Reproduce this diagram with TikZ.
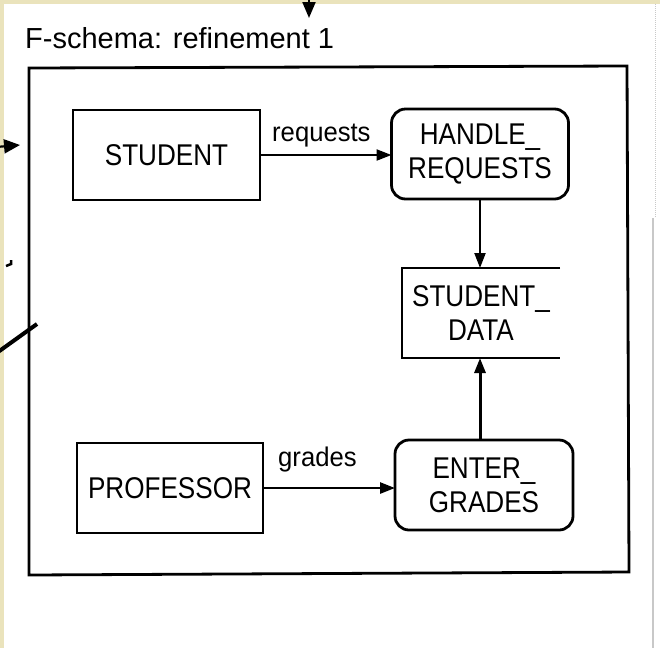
\documentclass[tikz,border=0pt]{standalone}
\usepackage{fontspec}
\setmainfont{Liberation Sans}
\newfontfamily\boxfont[FakeStretch=0.87]{Liberation Sans}
\newfontfamily\lblfont[FakeStretch=0.95]{Liberation Sans}
\usetikzlibrary{arrows.meta}
\definecolor{pagebeige}{RGB}{234,227,188}
\definecolor{edgegray}{RGB}{200,200,200}
\begin{document}
\begin{tikzpicture}[x=1pt,y=-1pt,
  ink/.style={line width=2.8pt,black},
  procbox/.style={draw,ink,minimum width=#1,minimum height=90pt,inner sep=0pt,outer sep=0pt,
    align=center,font=\boxfont\fontsize{30}{34}\selectfont},
  roundbox/.style={procbox=#1,rounded corners=14pt},
  storebox/.style={minimum width=#1,minimum height=90pt,inner sep=0pt,outer sep=0pt,
    align=center,font=\boxfont\fontsize{30}{34}\selectfont},
  flow/.style={black,line width=2.2pt,-{Triangle[length=15pt,width=11pt]}},
  flowlabel/.style={anchor=base west,inner sep=0pt,font=\lblfont\fontsize{27}{30}\selectfont},
  stub/.style={line width=4pt,black}
]
% page background with its thin beige margins
\fill[pagebeige] (0,0) rectangle (660,648);
\fill[white] (4,4) rectangle (660,648);
\draw[edgegray,line width=1pt,densely dotted] (655,4) -- (655,218);
\draw[edgegray,line width=1.2pt] (653,218) -- (653,648);
\useasboundingbox (0,0) rectangle (660,648);

% title
\node[anchor=base west,inner sep=0pt,font=\fontsize{29}{31}\selectfont] (title) at (25,48) {F-schema: refinement 1};

% enclosing frame
\draw[ink] (29,68) -- (627,66) -- (629,572) -- (29,575) -- cycle;

% processes, interfaces and the data store
\node[procbox=187pt] (st) at (166.5,155) {STUDENT};
\node[roundbox=177pt] (hr) at (480,154) {HANDLE\_\\REQUESTS};
\node[storebox=158pt] (sd) at (481,313) {STUDENT\_\\DATA};
\draw[ink] (sd.north east) -- (sd.north west) -- (sd.south west) -- (sd.south east);
\node[procbox=186pt] (pr) at (170,488) {PROFESSOR};
\node[roundbox=178pt] (eg) at (484,485) {ENTER\_\\GRADES};

% flows
\draw[flow] (st.east) -- (st.east -| hr.west);
\node[flowlabel] (lreq) at (272,141) {requests};
\draw[flow] (hr.south) -- (hr.south |- sd.north);
\draw[flow,line width=3pt] (eg.north -| hr.south) -- (hr.south |- sd.south);
\draw[flow,line width=2.6pt] (pr.east) -- (pr.east -| eg.west);
\node[flowlabel] (lgr) at (278,466) {grades};

% loose ends of connectors from the surrounding page
\coordinate (topin) at (309,-4);
\coordinate (topend) at (309,18);
\draw[flow,-{Triangle[length=16pt,width=13pt]}] (topin) -- (topend);
\coordinate (leftin) at (-4,147);
\coordinate (leftend) at (20,145);
\draw[flow,-{Triangle[length=16pt,width=14pt]}] (leftin) -- (leftend);
\coordinate (hookA) at (6,266);
\coordinate (hookB) at (11,264);
\coordinate (hookC) at (11,260);
\draw[line width=2.5pt] (hookA) -- (hookB) -- (hookC);
\coordinate (diagA) at (-2,352);
\coordinate (diagB) at (37,324);
\draw[stub] (diagA) -- (diagB);
\end{tikzpicture}
\end{document}
